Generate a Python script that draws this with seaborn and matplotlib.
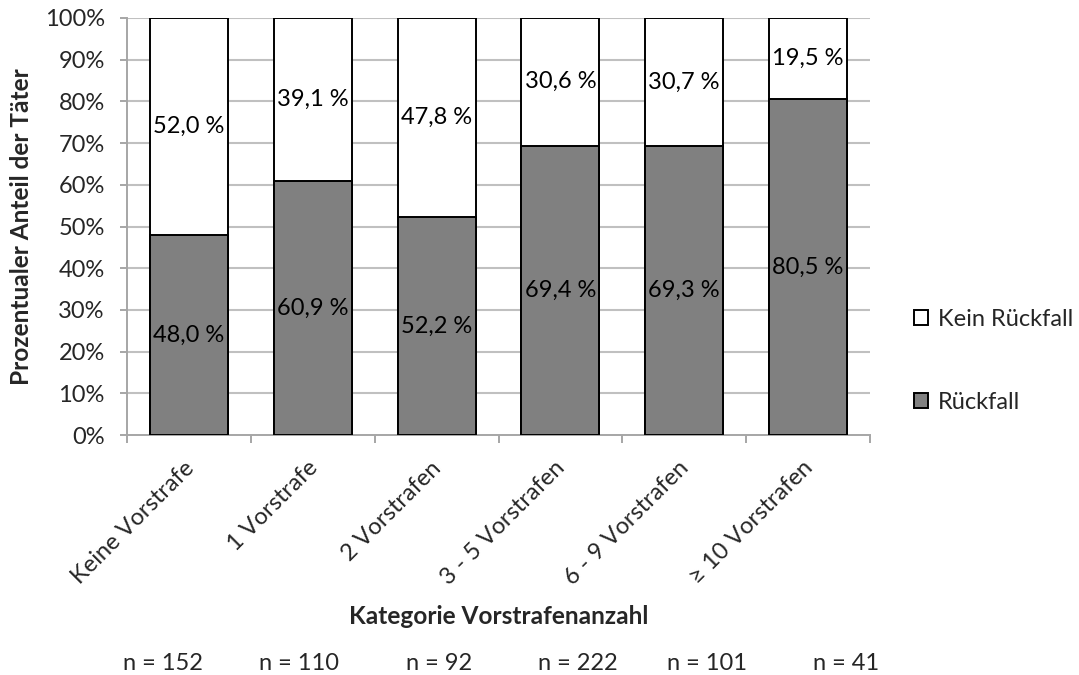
import matplotlib
matplotlib.use("Agg")
import matplotlib.pyplot as plt
from matplotlib.patches import Patch
from matplotlib.ticker import FuncFormatter
from matplotlib.transforms import ScaledTranslation
import seaborn as sns
import pandas as pd

# Data
categories = ["Keine Vorstrafe", "1 Vorstrafe", "2 Vorstrafen",
              "3 - 5 Vorstrafen", "6 - 9 Vorstrafen", "\u2265 10 Vorstrafen"]
rueckfall = [48.0, 60.9, 52.2, 69.4, 69.3, 80.5]
kein_rueckfall = [52.0, 39.1, 47.8, 30.6, 30.7, 19.5]
n_values = [152, 110, 92, 222, 101, 41]

sns.set_theme(style="white")
plt.rcParams["font.family"] = ["Lato", "DejaVu Sans"]
FS = 17
FS_TITLE = 17.6

df = pd.DataFrame({
    "Kategorie": categories,
    "Rückfall": rueckfall,
    "Kein Rückfall": kein_rueckfall,
})
df["Gesamt"] = df["Rückfall"] + df["Kein Rückfall"]

W, H = 1079, 675
fig = plt.figure(figsize=(W / 100, H / 100), dpi=100)
ax = fig.add_axes([127 / W, 1 - 435 / H, (870 - 127) / W, (435 - 18) / H])

grid_col = "#c0c0c0"
axis_col = "#a6a6a6"
for v in range(10, 101, 10):
    ax.axhline(v, color=grid_col, lw=1.5, zorder=0)

# Stacked bars: full bar (white, upper segment) then the lower segment in grey
sns.barplot(data=df, x="Kategorie", y="Gesamt", color="white", edgecolor="black",
            linewidth=1.4, width=0.63, saturation=1, ax=ax, zorder=2)
sns.barplot(data=df, x="Kategorie", y="Rückfall", color="#808080", edgecolor="black",
            linewidth=1.4, width=0.63, saturation=1, ax=ax, zorder=3)

top_bars = ax.containers[0]
low_bars = ax.containers[1]
ax.bar_label(low_bars, labels=[f"{v:.1f} %".replace(".", ",") for v in rueckfall],
             label_type="center", fontsize=FS, color="black", zorder=4)
# labels for the upper segment, centred in the white part
for rect, lo, hi in zip(top_bars, rueckfall, kein_rueckfall):
    cx = rect.get_x() + rect.get_width() / 2
    ax.text(cx, lo + hi / 2, f"{hi:.1f} %".replace(".", ","), ha="center", va="center",
            fontsize=FS, color="black", zorder=4)

ax.set_ylim(0, 100)
ax.set_xlim(-0.5, len(categories) - 0.5)
ax.set_yticks(range(0, 101, 10))
ax.yaxis.set_major_formatter(FuncFormatter(lambda v, p: f"{int(v)}%"))
ax.tick_params(axis="y", labelsize=FS, length=5, width=1.4, color=axis_col,
               left=True, pad=11)

# x ticks at category boundaries, labels under the bar centres
ax.set_xticks([i - 0.5 for i in range(len(categories) + 1)], minor=False)
ax.set_xticklabels([])
ax.set_xticks(range(len(categories)), minor=True)
ax.set_xticklabels(categories, minor=True, rotation=45, ha="right",
                   rotation_mode="anchor", fontsize=FS)
ax.tick_params(axis="x", which="major", length=6, width=1.4, color=axis_col, bottom=True)
ax.tick_params(axis="x", which="minor", length=0, pad=16)
shift = ScaledTranslation(-6 / 100, 0, fig.dpi_scale_trans)
for lab in ax.get_xticklabels(minor=True):
    lab.set_transform(lab.get_transform() + shift)

for side in ["top", "right"]:
    ax.spines[side].set_visible(False)
for side in ["left", "bottom"]:
    ax.spines[side].set_color(axis_col)
    ax.spines[side].set_linewidth(1.4)

ax.set_xlabel("Kategorie Vorstrafenanzahl", fontsize=FS_TITLE, fontweight="bold")
ax.xaxis.set_label_coords(0.5, (435 - 617) / 417)
ax.xaxis.label.set_va("center")
ax.set_ylabel("Prozentualer Anteil der Täter", fontsize=FS_TITLE, fontweight="bold")
ax.yaxis.set_label_coords((22 - 127) / 743, 0.5)
ax.yaxis.label.set_va("center")

# sample sizes under the axis title
n_x = [163, 299, 439, 578, 707, 846]
for x, n in zip(n_x, n_values):
    fig.text(x / W, 1 - 663 / H, f"n = {n}", ha="center", va="center", fontsize=FS)

handles = [Patch(facecolor="white", edgecolor="black", linewidth=1.4, label="Kein Rückfall"),
           Patch(facecolor="#808080", edgecolor="black", linewidth=1.4, label="Rückfall")]
fig.legend(handles=handles, loc="center left", bbox_to_anchor=(914 / W, 1 - 361 / H),
           frameon=False, fontsize=FS, handlelength=0.6, handleheight=0.6,
           handletextpad=0.4, labelspacing=2.6, borderpad=0, borderaxespad=0)

fig.savefig("out.png", dpi=100)
